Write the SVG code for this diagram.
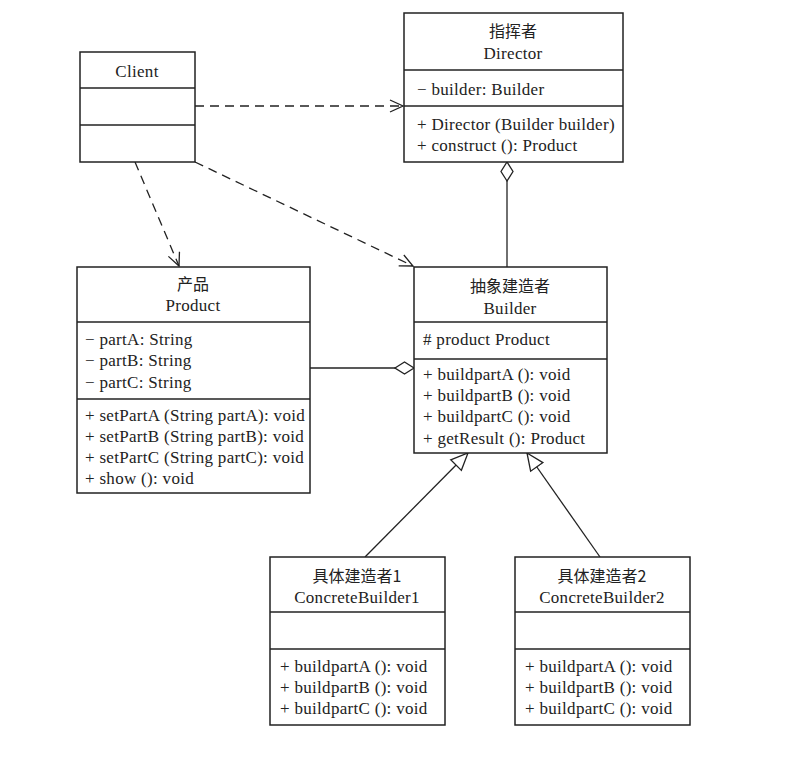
<svg xmlns="http://www.w3.org/2000/svg" width="809" height="764" viewBox="0 0 809 764">
<defs>
<style>
.box{fill:#fff;stroke:#222;stroke-width:1.5}
.ln{stroke:#222;stroke-width:1.3;fill:none}
.dash{stroke:#222;stroke-width:1.3;fill:none;stroke-dasharray:9,6}
text{font-family:"Liberation Serif","Noto Sans CJK SC",serif;font-size:17px;letter-spacing:0.3px;fill:#222}
.c{text-anchor:middle}
.cn{font-family:"Noto Sans CJK SC","Liberation Serif",sans-serif;font-size:16px;letter-spacing:0}
</style>
<marker id="open" markerWidth="16" markerHeight="14" refX="14" refY="7" orient="auto" markerUnits="userSpaceOnUse">
<path d="M1,1 L14,7 L1,13" fill="none" stroke="#222" stroke-width="1.3"/>
</marker>
<marker id="tri" markerWidth="20" markerHeight="18" refX="18" refY="9" orient="auto" markerUnits="userSpaceOnUse">
<path d="M1,1.5 L18,9 L1,16.5 Z" fill="#fff" stroke="#222" stroke-width="1.3"/>
</marker>
<marker id="dia" markerWidth="22" markerHeight="14" refX="20" refY="7" orient="auto" markerUnits="userSpaceOnUse">
<path d="M1,7 L10.5,1 L20,7 L10.5,13 Z" fill="#fff" stroke="#222" stroke-width="1.3"/>
</marker>
</defs>
<rect width="809" height="764" fill="#fff"/>

<g id="connectors">
<line class="dash" x1="195" y1="106" x2="403" y2="106" marker-end="url(#open)"/>
<line class="dash" x1="135" y1="162" x2="179" y2="266" marker-end="url(#open)"/>
<line class="dash" x1="195" y1="162" x2="413" y2="266" marker-end="url(#open)"/>
<line class="ln" x1="507" y1="267" x2="507" y2="162" marker-end="url(#dia)"/>
<line class="ln" x1="310" y1="368" x2="414" y2="368" marker-end="url(#dia)"/>
<line class="ln" x1="365" y1="557" x2="468" y2="453" marker-end="url(#tri)"/>
<line class="ln" x1="600" y1="557" x2="527" y2="453" marker-end="url(#tri)"/>
</g>

<g id="client">
<rect class="box" x="80" y="52" width="115" height="110"/>
<line class="ln" x1="80" y1="88" x2="195" y2="88"/>
<line class="ln" x1="80" y1="125" x2="195" y2="125"/>
<text class="c" x="137" y="77">Client</text>
</g>

<g id="director">
<rect class="box" x="404" y="13" width="219" height="149"/>
<line class="ln" x1="404" y1="70" x2="623" y2="70"/>
<line class="ln" x1="404" y1="106" x2="623" y2="106"/>
<text class="c cn" x="513" y="37">指挥者</text>
<text class="c" x="513" y="59">Director</text>
<text x="417" y="95">− builder: Builder</text>
<text x="417" y="130">+ Director (Builder builder)</text>
<text x="417" y="151">+ construct (): Product</text>
</g>

<g id="product">
<rect class="box" x="77" y="267" width="233" height="226"/>
<line class="ln" x1="77" y1="322" x2="310" y2="322"/>
<line class="ln" x1="77" y1="399" x2="310" y2="399"/>
<text class="c cn" x="193" y="290">产品</text>
<text class="c" x="193" y="311">Product</text>
<text x="85" y="345">− partA: String</text>
<text x="85" y="366">− partB: String</text>
<text x="85" y="388">− partC: String</text>
<text x="85" y="421">+ setPartA (String partA): void</text>
<text x="85" y="442">+ setPartB (String partB): void</text>
<text x="85" y="463">+ setPartC (String partC): void</text>
<text x="85" y="484">+ show (): void</text>
</g>

<g id="builder">
<rect class="box" x="414" y="267" width="193" height="186"/>
<line class="ln" x1="414" y1="322" x2="607" y2="322"/>
<line class="ln" x1="414" y1="359" x2="607" y2="359"/>
<text class="c cn" x="510" y="292">抽象建造者</text>
<text class="c" x="510" y="314">Builder</text>
<text x="423" y="345"># product Product</text>
<text x="423" y="380">+ buildpartA (): void</text>
<text x="423" y="401">+ buildpartB (): void</text>
<text x="423" y="422">+ buildpartC (): void</text>
<text x="423" y="444">+ getResult (): Product</text>
</g>

<g id="concrete1">
<rect class="box" x="270" y="557" width="175" height="168"/>
<line class="ln" x1="270" y1="612" x2="445" y2="612"/>
<line class="ln" x1="270" y1="649" x2="445" y2="649"/>
<text class="c cn" x="357" y="582">具体建造者1</text>
<text class="c" x="357" y="603">ConcreteBuilder1</text>
<text x="280" y="672">+ buildpartA (): void</text>
<text x="280" y="693">+ buildpartB (): void</text>
<text x="280" y="714">+ buildpartC (): void</text>
</g>

<g id="concrete2">
<rect class="box" x="515" y="557" width="175" height="168"/>
<line class="ln" x1="515" y1="612" x2="690" y2="612"/>
<line class="ln" x1="515" y1="649" x2="690" y2="649"/>
<text class="c cn" x="602" y="582">具体建造者2</text>
<text class="c" x="602" y="603">ConcreteBuilder2</text>
<text x="525" y="672">+ buildpartA (): void</text>
<text x="525" y="693">+ buildpartB (): void</text>
<text x="525" y="714">+ buildpartC (): void</text>
</g>
</svg>
